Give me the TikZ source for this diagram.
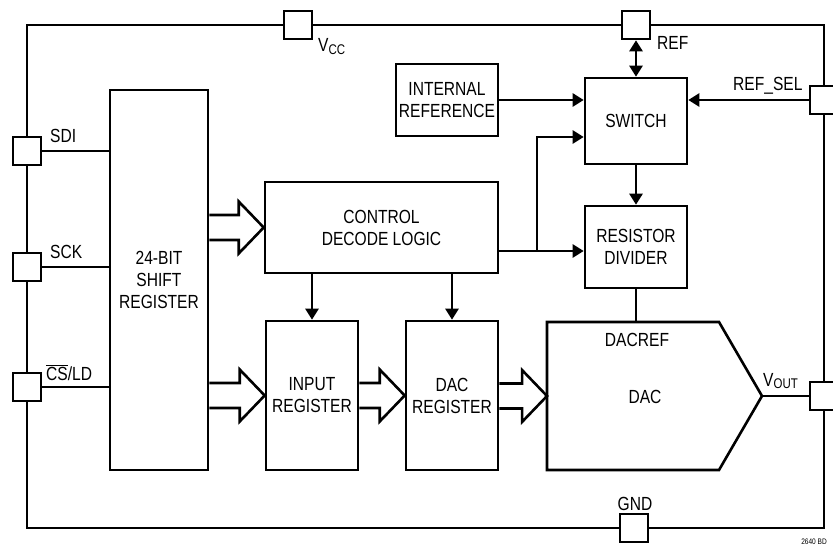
\documentclass[tikz,border=0pt]{standalone}
\usepackage{fontspec}
\setmainfont{Liberation Sans}[FakeStretch=0.82]
\usetikzlibrary{arrows.meta,calc}
\newcommand\lbl{\fontsize{19bp}{22bp}\selectfont}
\newcommand\sublbl{\fontsize{14bp}{14bp}\selectfont}
\tikzset{
  wire/.style={line width=2.6bp},
  blk/.style={draw, line width=2.6bp, inner sep=0pt, align=center, font=\lbl},
  pin/.style={draw, fill=white, line width=2.6bp, minimum size=28bp, inner sep=0pt},
  arr/.style={wire, -{Triangle[length=11bp,width=13bp]}},
  darr/.style={wire, {Triangle[length=11bp,width=13bp]}-{Triangle[length=11bp,width=13bp]}},
  busline/.style={line width=2.6bp, line join=miter},
  lab/.style={inner sep=0pt, font=\lbl},
}
\newcommand\bus[2]{\draw[busline] let \p1=#1, \p2=#2 in
  (\x1,\y2+12.5pt) -- (\x2-25pt,\y2+12.5pt) -- (\x2-25pt,\y2+26pt) -- (\x2,\y2)
  -- (\x2-25pt,\y2-26pt) -- (\x2-25pt,\y2-12.5pt) -- (\x1,\y2-12.5pt);}
\begin{document}
\begin{tikzpicture}[x=1bp,y=-1bp]
\useasboundingbox (0,0) rectangle (833,546);
% chip outline
\draw[wire] (27,25) rectangle (824,528);
% pins
\node[pin] (pVCC) at (298,25) {};
\node[pin] (pREF) at (636,25) {};
\node[pin] (pRS) at (824,100) {};
\node[pin] (pSDI) at (27,151) {};
\node[pin] (pSCK) at (27,267) {};
\node[pin] (pCS) at (27,387) {};
\node[pin] (pVOUT) at (824,396) {};
\node[pin] (pGND) at (634,528) {};
% blocks
\node[blk, minimum width=98bp, minimum height=380bp] (sr) at (159,280) {24-BIT\\SHIFT\\REGISTER};
\node[blk, minimum width=233bp, minimum height=91bp] (ctrl) at (381.5,227.5) {CONTROL\\DECODE LOGIC};
\node[blk, minimum width=102bp, minimum height=72bp] (ir) at (447,100) {INTERNAL\\REFERENCE};
\node[blk, minimum width=102bp, minimum height=86bp] (sw) at (636,121) {SWITCH};
\node[blk, minimum width=102bp, minimum height=82bp] (rd) at (636,247) {RESISTOR\\DIVIDER};
\node[blk, minimum width=92bp, minimum height=149bp] (inr) at (312,395.5) {INPUT\\REGISTER};
\node[blk, minimum width=92bp, minimum height=149bp] (dr) at (452,395.5) {DAC\\REGISTER};
% DAC
\coordinate (dacL) at (547,396);
\coordinate (dacT) at (636,322);
\coordinate (dacO) at (762,396);
\draw[wire, line join=miter] (547,322) -- (719,322) -- (dacO) -- (719,470) -- (547,470) -- cycle;
\node[lab, anchor=base] (tDACREF) at (637,346) {DACREF};
\node[lab, anchor=base] (tDAC) at (645,403) {DAC};
% wires
\draw[wire] (pSDI.east) -- (pSDI -| sr.west);
\draw[wire] (pSCK.east) -- (pSCK -| sr.west);
\draw[wire] (pCS.east) -- (pCS -| sr.west);
\draw[arr] (ir.east) -- (ir.east -| sw.west);
\draw[darr] (pREF.south) -- (sw.north);
\draw[arr] (pRS.west) -- (pRS -| sw.east);
\draw[arr] (sw.south) -- (rd.north);
\draw[wire] (rd.south) -- (dacT);
\coordinate (j) at (537,251);
\draw[wire] (j -| ctrl.east) -- (j);
\draw[arr] (j) -- (j -| rd.west);
\draw[arr] (j) |- ([yshift=-16bp]sw.west);
\draw[arr] (ctrl.south -| inr) -- (inr.north);
\draw[arr] (ctrl.south -| dr) -- (dr.north);
\draw[wire] (dacO) -- (pVOUT.west);
% buses
\bus{(sr.east)}{(ctrl.west)}
\bus{(sr.east)}{(inr.west)}
\bus{(inr.east)}{(dr.west)}
\bus{(dr.east)}{(dacL)}
% pin labels
\node[lab, anchor=base west] (tSDI) at (50,143) {SDI};
\node[lab, anchor=base west] (tSCK) at (50,259) {SCK};
\node[lab, anchor=base west] (tCS) at (46,380) {$\overline{\mbox{CS}}$/LD};
\node[lab, anchor=base west] (tVCC) at (318,52) {V\raisebox{-3bp}{\sublbl CC}};
\node[lab, anchor=base west] (tREF) at (657,50) {REF};
\node[lab, anchor=base west] (tRS) at (733,91) {REF\_SEL};
\node[lab, anchor=base] (tGND) at (635,510) {GND};
\node[lab, anchor=base west] (tVOUT) at (763,386) {V\raisebox{-2bp}{\sublbl OUT}};
\node[inner sep=0pt, anchor=base east, font=\fontsize{8bp}{8bp}\selectfont] (tBD) at (827,544) {2640 BD};
\end{tikzpicture}
\end{document}
